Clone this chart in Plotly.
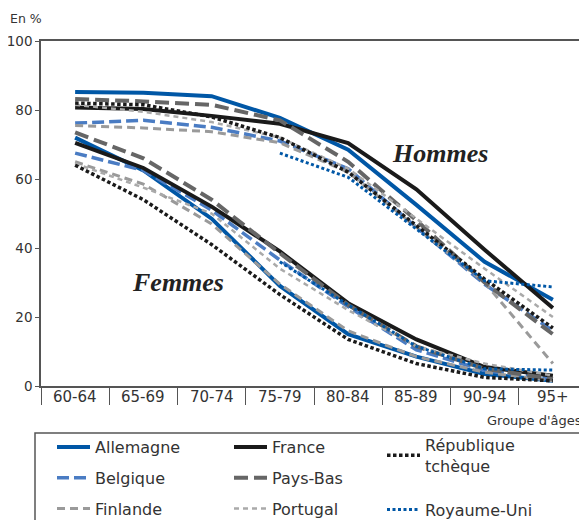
import plotly.graph_objects as go

ages = ["60-64", "65-69", "70-74", "75-79", "80-84", "85-89", "90-94", "95+"]
yticks = [0, 20, 40, 60, 80, 100]

# Hommes
allemagne_h = [85.2, 85.0, 84.0, 77.7, 68.5, 52.5, 36.0, 25.0]
france_h = [80.7, 80.3, 78.3, 76.0, 70.4, 57.0, 39.5, 22.6]
tcheque_h = [82.0, 81.5, 78.0, 72.0, 62.0, 46.5, 31.0, 16.8]
belgique_h = [76.2, 77.0, 75.0, 71.0, 63.0, 46.0, 29.5, 16.0]
paysbas_h = [83.2, 82.5, 81.5, 77.0, 65.0, 48.0, 30.0, 15.0]
finlande_h = [75.5, 74.8, 73.7, 70.5, 62.0, 46.0, 30.0, 6.5]
portugal_h = [81.5, 79.5, 76.5, 72.0, 63.0, 48.5, 34.0, 20.0]
royaumeuni_h = [None, None, None, 67.5, 60.5, 45.5, 30.5, 28.7]

# Femmes
allemagne_f = [72.0, 62.5, 48.5, 29.0, 15.0, 8.5, 3.5, 1.5]
france_f = [70.5, 63.2, 52.0, 39.0, 24.0, 13.5, 5.5, 3.0]
tcheque_f = [64.0, 54.0, 41.0, 26.5, 13.5, 6.5, 2.5, 1.5]
belgique_f = [67.5, 62.5, 51.0, 36.5, 23.0, 10.5, 4.5, 2.0]
paysbas_f = [73.5, 66.0, 54.0, 38.5, 23.5, 11.5, 5.0, 2.0]
finlande_f = [65.0, 58.5, 47.0, 29.5, 16.0, 8.5, 4.0, 1.5]
portugal_f = [64.5, 57.5, 50.0, 34.0, 22.0, 11.5, 6.5, 3.0]
royaumeuni_f = [None, None, None, 36.0, 23.5, 11.5, 5.0, 4.6]

series = [
    # name, hommes, femmes, color, width, dash, legend, y axis
    ("Allemagne", allemagne_h, allemagne_f, "#0057a6", 4, "solid", "legend", "y"),
    ("Belgique", belgique_h, belgique_f, "#4a7cc3", 3.5, "12px,5px", "legend", "y"),
    ("Finlande", finlande_h, finlande_f, "#9a9a9a", 3, "8px,5px", "legend", "y"),
    ("France", france_h, france_f, "#1a1a1a", 4, "solid", "legend2", "y"),
    ("Pays-Bas", paysbas_h, paysbas_f, "#666666", 4, "14px,6px", "legend2", "y"),
    ("Portugal", portugal_h, portugal_f, "#aaaaaa", 2.5, "5px,4px", "legend2", "y"),
    ("République<br>tchèque", tcheque_h, tcheque_f, "#1a1a1a", 3.5, "3.5px,2.5px", "legend3", "y"),
    ("Royaume-Uni", royaumeuni_h, royaumeuni_f, "#0057a6", 3, "3px,2.5px", "legend3", "y2"),
]

fig = go.Figure()
for name, h, f, color, w, dash, leg, yax in series:
    for i, vals in enumerate([h, f]):
        fig.add_trace(go.Scatter(
            x=ages, y=vals, mode="lines", name=name, yaxis=yax,
            line=dict(color=color, width=w, dash=dash),
            legend=leg, legendgroup=name, showlegend=(i == 0),
            hoverinfo="skip",
        ))

font = "DejaVu Sans"
axis_col = "#555555"
txt_col = "#333333"
W, H = 579, 512  # page body has an 8px margin

fig.update_layout(
    width=W, height=H,
    margin=dict(l=33, r=0, t=33, b=134, autoexpand=False),
    paper_bgcolor="white", plot_bgcolor="white",
    font=dict(family=font, size=15, color=txt_col),
    xaxis=dict(
        type="category", categoryarray=ages, categoryorder="array",
        tickson="boundaries",
        ticks="outside", ticklen=17, tickwidth=1.3, tickcolor=axis_col,
        showticklabels=False, showgrid=False, zeroline=False,
        showline=True, linecolor=axis_col, linewidth=1.5, mirror=True,
        range=[-0.5, 7.5], fixedrange=True,
    ),
    yaxis=dict(
        range=[0, 100], tickvals=yticks, ticks="outside", ticklen=4,
        tickwidth=1.3, tickcolor=axis_col, showgrid=False, zeroline=False,
        showline=True, linecolor=axis_col, linewidth=1.5, mirror=True,
        tickfont=dict(family=font, size=13.5, color=txt_col),
    ),
    yaxis2=dict(
        overlaying="y", anchor="x", side="right", range=[0, 100], tickvals=yticks,
        ticks="inside", ticklen=7, tickwidth=1.3, tickcolor=axis_col,
        showticklabels=False, showgrid=False, zeroline=False, showline=False,
    ),
    showlegend=True,
)

leg_common = dict(
    xref="container", yref="container", xanchor="left", yanchor="top",
    orientation="v", bgcolor="rgba(0,0,0,0)", borderwidth=0,
    font=dict(family=font, size=16, color=txt_col), itemwidth=33,
)
fig.update_layout(
    legend=dict(x=44 / W, y=1 - 422 / H, tracegroupgap=7, **leg_common),
    legend2=dict(x=221 / W, y=1 - 422 / H, tracegroupgap=7, **leg_common),
    legend3=dict(x=374 / W, y=1 - 420 / H, tracegroupgap=20, **leg_common),
)

# Legend frame
fig.add_shape(type="rect", xref="paper", yref="paper",
              x0=-6 / 546, x1=1.02, y0=-(520 - 386 + 10) / 345, y1=-(433 - 386) / 345,
              line=dict(color=axis_col, width=1.5), fillcolor="rgba(0,0,0,0)")

# X category labels
for a in ages:
    fig.add_annotation(x=a, y=0, yref="paper", yshift=-11, yanchor="middle",
                       xanchor="center", text=a, showarrow=False,
                       font=dict(family=font, size=15, color=txt_col))

fig.add_annotation(x=1, y=0, xref="paper", yref="paper", yshift=-34, xshift=-3,
                   xanchor="right", yanchor="middle", text="Groupe d'âges",
                   showarrow=False, font=dict(family=font, size=13, color=txt_col))
fig.add_annotation(x=0, y=1, xref="paper", yref="paper", xshift=-33, yshift=23,
                   xanchor="left", yanchor="middle", text="En %", showarrow=False,
                   font=dict(family=font, size=12.5, color=txt_col))

serif = "Liberation Serif"
fig.add_annotation(x=5.35, y=67.5, text="<b><i>Hommes</i></b>", showarrow=False,
                   font=dict(family=serif, size=26, color="#222222"))
fig.add_annotation(x=1.5, y=30, text="<b><i>Femmes</i></b>", showarrow=False,
                   font=dict(family=serif, size=26, color="#222222"))

fig.write_html("out.html")
